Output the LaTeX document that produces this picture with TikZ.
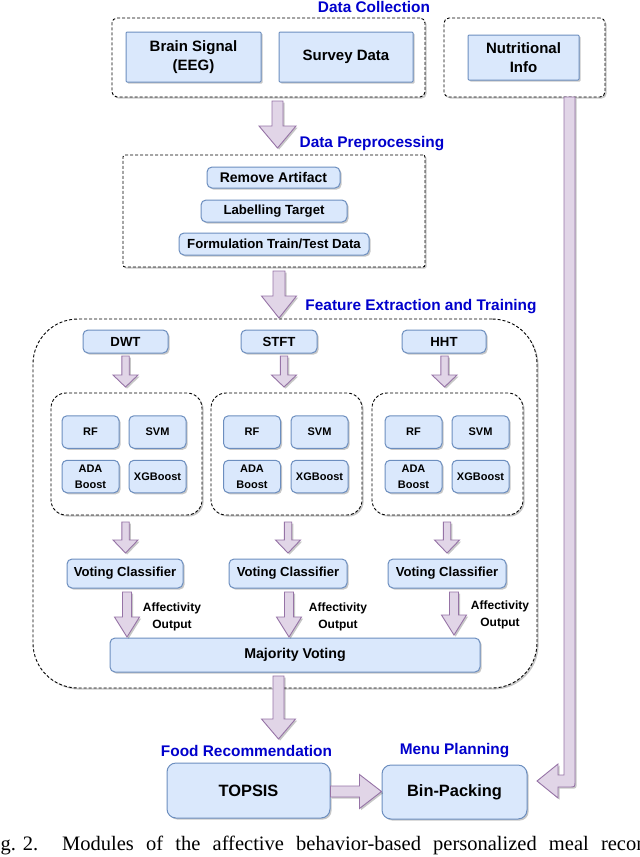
\documentclass[tikz,border=0pt]{standalone}
\usepackage{fontspec}
\setmainfont{Liberation Sans}
\newfontfamily\capfont{Liberation Serif}
\usetikzlibrary{calc,shadows}
\definecolor{bfill}{HTML}{DAE8FC}
\definecolor{bdraw}{HTML}{6C8EBF}
\definecolor{pfill}{HTML}{E1D5E7}
\definecolor{pdraw}{HTML}{9673A6}
\definecolor{ttl}{HTML}{0000CC}
\newcommand\fsz[1]{\fontsize{#1}{#1}\selectfont}
% down flex arrow: start, tip, shaft half width, head half width, head length
\newcommand\vflex[5]{%
  \draw[flexarrow] let \p1=(#1), \p2=(#2) in
    (\x1-#3,\y1) -- (\x1-#3,\y2+#5) -- (\x1-#4,\y2+#5) -- (\x1,\y2)
    -- (\x1+#4,\y2+#5) -- (\x1+#3,\y2+#5) -- (\x1+#3,\y1) -- cycle;}
% right flex arrow
\newcommand\hflex[5]{%
  \draw[flexarrow] let \p1=(#1), \p2=(#2) in
    (\x1,\y1+#3) -- (\x2-#5,\y1+#3) -- (\x2-#5,\y1+#4) -- (\x2,\y1)
    -- (\x2-#5,\y1-#4) -- (\x2-#5,\y1-#3) -- (\x1,\y1-#3) -- cycle;}
\tikzset{
  shd/.style={drop shadow={shadow xshift=1.6pt,shadow yshift=-1.6pt,fill=black,opacity=0.22}},
  bbox/.style={draw=bdraw, fill=bfill, line width=1pt, rounded corners=3pt, shd,
    inner sep=0pt, align=center, font=\bfseries},
  dbox/.style={draw=black, fill=white, line width=0.9pt, dash pattern=on 3pt off 2pt,
    shd, inner sep=0pt},
  flexarrow/.style={draw=pdraw, fill=pfill, line width=0.9pt, line join=miter, shd},
  ttlstyle/.style={text=ttl, font=\bfseries\fsz{15.4}, inner sep=0pt},
  small/.style={bbox, rounded corners=5pt, minimum width=57pt, minimum height=32.5pt,
    font=\bfseries\fontsize{11}{16}\selectfont},
  vcbox/.style={bbox, rounded corners=5pt, minimum height=29pt, font=\bfseries\fsz{13.1}},
  aff/.style={align=center, inner sep=0pt, font=\bfseries\fontsize{12}{17}\selectfont},
  trbox/.style={bbox, minimum height=23pt, rounded corners=5pt, font=\bfseries\fsz{13.2}},
  subbox/.style={dbox, rounded corners=15pt, minimum width=151pt, minimum height=122pt},
  captext/.style={anchor=base west, inner sep=0pt, font=\capfont\fsz{20.5}}
}
\begin{document}
\begin{tikzpicture}[x=1pt,y=-1pt]
\useasboundingbox (0,0) rectangle (640,857);
\clip (0,0) rectangle (640,857);

% ---------- Data collection ----------
\node[ttlstyle] (tdc) at (374,7) {Data Collection};
\node[dbox, rounded corners=5pt, minimum width=313pt, minimum height=79pt] (dc) at (268.5,57.5) {};
\node[dbox, rounded corners=5pt, minimum width=161pt, minimum height=79pt] (nibox) at (524.5,57.5) {};
\node[bbox, rounded corners=1pt, minimum width=135pt, minimum height=50pt, font=\bfseries\fontsize{15}{19}\selectfont] (brain) at (193.5,57) {Brain Signal\\(EEG)};
\node[bbox, rounded corners=1pt, minimum width=134pt, minimum height=50pt, font=\bfseries\fsz{15}] (survey) at (346,57) {Survey Data};
\node[bbox, rounded corners=1pt, minimum width=111pt, minimum height=45pt, font=\bfseries\fontsize{15}{19}\selectfont] (nutri) at (523.5,57.5) {Nutritional\\Info};

% ---------- Preprocessing ----------
\node[ttlstyle] (tpre) at (372,144) {Data Preprocessing};
\node[dbox, rounded corners=2pt, minimum width=302pt, minimum height=112pt] (pre) at (274,211) {};
\node[bbox, rounded corners=5pt, minimum width=133pt, minimum height=21pt, font=\bfseries\fsz{14}] (rem) at (273.5,177.5) {Remove Artifact};
\node[bbox, rounded corners=5pt, minimum width=146pt, minimum height=22pt, font=\bfseries\fsz{13.2}] (lab) at (274,211) {Labelling Target};
\node[bbox, rounded corners=5pt, minimum width=190pt, minimum height=22pt, font=\bfseries\fsz{13.2}] (form) at (274,244) {Formulation Train/Test Data};

% ---------- Feature extraction ----------
\node[ttlstyle] (tfe) at (421,307) {Feature Extraction and Training};
\node[dbox, rounded corners=45pt, minimum width=504pt, minimum height=369pt] (fe) at (285,503.5) {};
\node[trbox, minimum width=85pt] (dwt) at (125.5,341.5) {DWT};
\node[trbox, minimum width=76pt] (stft) at (279,341.5) {STFT};
\node[trbox, minimum width=84pt] (hht) at (444,341.5) {HHT};

\node[subbox] (sub1) at (126.5,454) {};
\node[subbox] (sub2) at (286.5,454) {};
\node[subbox] (sub3) at (447.5,454) {};

\node[small] (rf1) at (90.5,432) {RF};
\node[small] (svm1) at (157.5,432) {SVM};
\node[small] (ada1) at (90.5,476.5) {ADA\\Boost};
\node[small] (xgb1) at (157.5,476.5) {XGBoost};
\node[small] (rf2) at (252,432) {RF};
\node[small] (svm2) at (319.5,432) {SVM};
\node[small] (ada2) at (252,476.5) {ADA\\Boost};
\node[small] (xgb2) at (319.5,476.5) {XGBoost};
\node[small] (rf3) at (413.5,432) {RF};
\node[small] (svm3) at (480.5,432) {SVM};
\node[small] (ada3) at (413.5,476.5) {ADA\\Boost};
\node[small] (xgb3) at (480.5,476.5) {XGBoost};

\node[vcbox, minimum width=116pt] (vc1) at (125,573.5) {Voting Classifier};
\node[vcbox, minimum width=118pt] (vc2) at (288,573.5) {Voting Classifier};
\node[vcbox, minimum width=118pt] (vc3) at (447,573.5) {Voting Classifier};

\node[aff] (af1) at (172,616.5) {Affectivity\\Output};
\node[aff] (af2) at (338,616.5) {Affectivity\\Output};
\node[aff] (af3) at (500,614.5) {Affectivity\\Output};

\node[bbox, rounded corners=5pt, minimum width=370pt, minimum height=34pt, font=\bfseries\fsz{14.2}] (mv) at (295,655) {Majority Voting};

% ---------- Bottom ----------
\node[ttlstyle] (tfr) at (246.5,751) {Food Recommendation};
\node[ttlstyle] (tmp) at (454.5,751) {Menu Planning};
\node[bbox, rounded corners=9pt, minimum width=163pt, minimum height=55pt, font=\bfseries\fsz{16.4}] (topsis) at (248.5,790.5) {TOPSIS};
\node[bbox, rounded corners=9pt, minimum width=145pt, minimum height=54pt, font=\bfseries\fsz{16.4}] (bin) at (454.5,792) {Bin-Packing};

% ---------- connector end points ----------
\coordinate (a1s) at (277.5,101);  \coordinate (a1e) at (277.5,148);
\coordinate (a2s) at (279,271);    \coordinate (a2e) at (279,318);
\coordinate (d1s) at (125.5,356);  \coordinate (d1e) at (125.5,387);
\coordinate (d2s) at (284,356);    \coordinate (d2e) at (284,387);
\coordinate (d3s) at (444.5,356);  \coordinate (d3e) at (444.5,387);
\coordinate (e1s) at (125.5,522);  \coordinate (e1e) at (125.5,553);
\coordinate (e2s) at (288,522);    \coordinate (e2e) at (288,553);
\coordinate (e3s) at (447,522);    \coordinate (e3e) at (447,553);
\coordinate (f1s) at (127,592);    \coordinate (f1e) at (127,637);
\coordinate (f2s) at (289,592);    \coordinate (f2e) at (289,637);
\coordinate (f3s) at (454,592);    \coordinate (f3e) at (454,635);
\coordinate (gs) at (278.5,676);   \coordinate (ge) at (278.5,739);
\coordinate (hs) at (topsis.east |- 0,791.5); \coordinate (he) at (bin.west |- 0,791.5);
\coordinate (ns) at (569.5,97);    \coordinate (ne) at (537,781);

% ---------- connectors ----------
\vflex{a1s}{a1e}{5.5}{18.5}{22}
\vflex{a2s}{a2e}{6}{17.5}{22}
\vflex{d1s}{d1e}{3.7}{12.5}{12}
\vflex{d2s}{d2e}{3.7}{12.5}{12}
\vflex{d3s}{d3e}{3.7}{12.5}{12}
\vflex{e1s}{e1e}{3.7}{12.5}{13}
\vflex{e2s}{e2e}{3.7}{12.5}{13}
\vflex{e3s}{e3e}{3.7}{12.5}{13}
\vflex{f1s}{f1e}{4.5}{12.5}{20}
\vflex{f2s}{f2e}{4.5}{12.5}{20}
\vflex{f3s}{f3e}{4.5}{12.5}{20}
\vflex{gs}{ge}{5.5}{17}{20}
\hflex{hs}{he}{5.5}{17}{22}
\draw[flexarrow] let \p1=(ns), \p2=(ne) in
  (\x1-5.5,\y1) -- (\x1-5.5,\y2+6) -- (\x2+21,\y2+6) -- (\x2+21,\y2+17) -- (\x2,\y2)
  -- (\x2+21,\y2-17) -- (\x2+21,\y2-6) -- (\x1,\y2-6)
  .. controls (\x1+5.5,\y2-6) .. (\x1+5.5,\y2) -- (\x1+5.5,\y1) -- cycle;

% ---------- caption ----------
\node[captext] (capa) at (0.5,850) {g. 2.};
\node[captext] (capb) at (62,850)
  {\makebox[590pt][s]{Modules of the affective behavior-based personalized meal recom}};
\end{tikzpicture}
\end{document}
